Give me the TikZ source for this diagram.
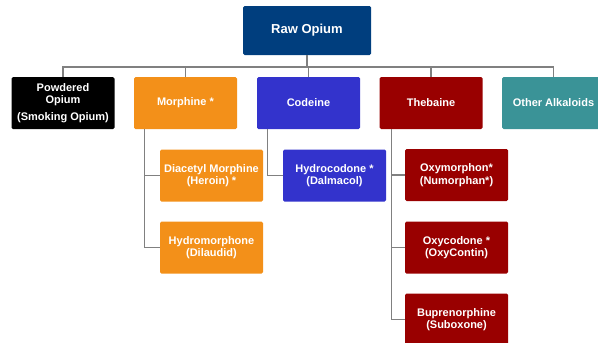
\documentclass[tikz,border=0pt]{standalone}
\usepackage{fontspec}
\setmainfont{Liberation Sans}
\usetikzlibrary{positioning}

\definecolor{rawblue}{RGB}{0,62,126}
\definecolor{morange}{RGB}{243,144,25}
\definecolor{cblue}{RGB}{51,51,204}
\definecolor{tred}{RGB}{153,0,0}
\definecolor{oteal}{RGB}{58,147,151}

\begin{document}
\begin{tikzpicture}[
  x=1pt,y=-1pt,
  box/.style={rounded corners=1.5pt,text=white,align=center,inner sep=1pt,
    minimum width=103pt,minimum height=52pt,
    font=\fontsize{11}{12.5}\selectfont\bfseries},
  link/.style={draw=black!50,line width=1.2pt}
]
  \useasboundingbox (0,0) rectangle (598,343);

  \node[box,fill=rawblue,minimum width=128pt,minimum height=49pt,
    font=\fontsize{13}{15}\selectfont\bfseries] (raw) at (307,30.5) {Raw Opium};

  \node[box,fill=black] (powdered) at (63,103) {Powdered\\Opium\\[4pt](Smoking Opium)};
  \node[box,fill=morange] (morphine) at (185.5,103) {Morphine *};
  \node[box,fill=cblue] (codeine) at (308.5,103) {Codeine};
  \node[box,fill=tred] (thebaine) at (431,103) {Thebaine};
  \node[box,fill=oteal] (other) at (553.5,103) {Other Alkaloids};

  \node[box,fill=morange] (heroin) at (211.5,175.5) {Diacetyl Morphine\\(Heroin) *};
  \node[box,fill=morange] (hydromorphone) at (211.5,247.5) {Hydromorphone\\(Dilaudid)};
  \node[box,fill=cblue] (hydrocodone) at (334.5,175.5) {Hydrocodone *\\(Dalmacol)};
  \node[box,fill=tred] (oxymorphon) at (456.5,175) {Oxymorphon*\\(Numorphan*)};
  \node[box,fill=tred] (oxycodone) at (456.5,247.5) {Oxycodone *\\(OxyContin)};
  \node[box,fill=tred] (bupre) at (456.5,319.5) {Buprenorphine\\(Suboxone)};

  % bus below the root
  \coordinate (bus) at (307,67);
  \draw[link] (raw) -- (bus);
  \draw[link] (powdered.north) |- (bus) -| (other.north);
  \draw[link] (morphine.north) -- (morphine.north |- bus);
  \draw[link] (codeine.north) -- (codeine.north |- bus);
  \draw[link] (thebaine.north) -- (thebaine.north |- bus);

  % second level
  \draw[link] ([xshift=11pt]morphine.south west) |- (heroin.west);
  \draw[link] ([xshift=11pt]morphine.south west) |- (hydromorphone.west);
  \draw[link] ([xshift=11pt]codeine.south west) |- (hydrocodone.west);
  \draw[link] ([xshift=12pt]thebaine.south west) |- (oxymorphon.west);
  \draw[link] ([xshift=12pt]thebaine.south west) |- (oxycodone.west);
  \draw[link] ([xshift=12pt]thebaine.south west) |- (bupre.west);
\end{tikzpicture}
\end{document}
